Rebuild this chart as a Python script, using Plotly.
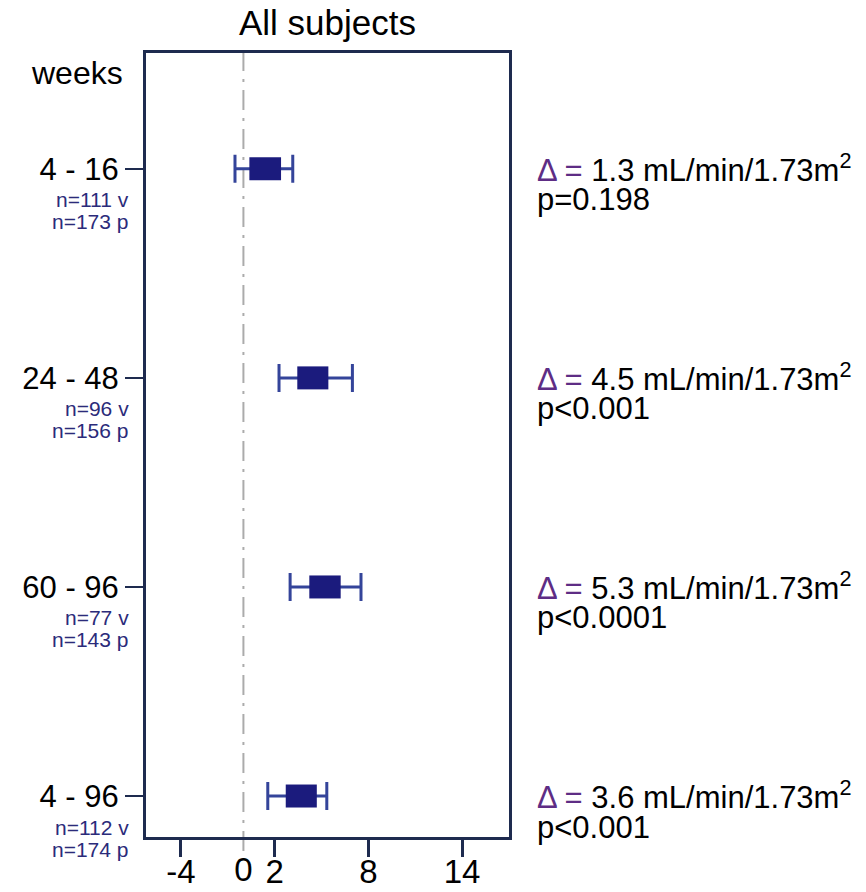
import plotly.graph_objects as go

# ---- data ----
periods = ["4 - 16", "24 - 48", "60 - 96", "4 - 96"]
n_v = ["n=111 v", "n=96 v", "n=77 v", "n=112 v"]
n_p = ["n=173 p", "n=156 p", "n=143 p", "n=174 p"]
delta = [1.3, 4.5, 5.3, 3.6]
p_text = ["p=0.198", "p<0.001", "p<0.0001", "p<0.001"]
ci_lo = [-0.54, 2.28, 2.99, 1.56]
ci_hi = [3.16, 6.98, 7.53, 5.34]
box_lo = [0.38, 3.45, 4.22, 2.71]
box_hi = [2.41, 5.44, 6.23, 4.70]
x_ticks = [-4, 2, 8, 14]

FONT = "Liberation Sans, Arial, sans-serif"
NAVY = "#1b1b7d"
WHISK = "#34449a"
FRAME = "#1e2b4f"
SUB = "#2b2b7a"
PURPLE = "#5e2d85"

ypos = list(range(len(periods)))
mid = [(a + b) / 2 for a, b in zip(box_lo, box_hi)]

fig = go.Figure()

# whiskers (CI)
fig.add_trace(go.Scatter(
    x=mid, y=ypos, mode="markers",
    marker=dict(size=1, color="rgba(0,0,0,0)"),
    error_x=dict(type="data", symmetric=False,
                 array=[h - m for h, m in zip(ci_hi, mid)],
                 arrayminus=[m - l for m, l in zip(mid, ci_lo)],
                 color=WHISK, thickness=3, width=14),
    showlegend=False, hoverinfo="skip"))

# boxes
bx, by = [], []
for lo, hi, y in zip(box_lo, box_hi, ypos):
    bx += [lo, hi, None]
    by += [y, y, None]
fig.add_trace(go.Scatter(x=bx, y=by, mode="lines",
                         line=dict(color=NAVY, width=23),
                         showlegend=False, hoverinfo="skip"))

# dummy for overlay axis carrying the "0" label
fig.add_trace(go.Scatter(x=[], y=[], xaxis="x2", showlegend=False))

# zero reference line
fig.add_shape(type="line", xref="x", yref="paper", x0=0, x1=0, y0=-0.018, y1=1,
              line=dict(color="#ababab", width=2, dash="20px,8px,3px,8px"), layer="below")

annotations = []
annotations.append(dict(text="All subjects", xref="paper", yref="paper", x=0.5, y=1,
                        yanchor="middle", xanchor="center", yshift=31, showarrow=False,
                        font=dict(size=35, color="black", family=FONT)))
annotations.append(dict(text="weeks", xref="paper", yref="paper", x=-0.058, y=0.975,
                        xanchor="right", yanchor="middle", showarrow=False,
                        font=dict(size=32, color="black", family=FONT)))
for y, v, p, d, pt in zip(ypos, n_v, n_p, delta, p_text):
    annotations.append(dict(text=v, xref="paper", yref="y", x=-0.0413, y=y,
                            xanchor="right", yanchor="middle", yshift=-31, showarrow=False,
                            font=dict(size=21, color=SUB, family=FONT)))
    annotations.append(dict(text=p, xref="paper", yref="y", x=-0.0413, y=y,
                            xanchor="right", yanchor="middle", yshift=-53, showarrow=False,
                            font=dict(size=21, color=SUB, family=FONT)))
    annotations.append(dict(
        text=f"<span style='color:{PURPLE}'>\u0394 =</span> {d} mL/min/1.73m<sup>2</sup>",
        xref="paper", yref="y", x=1.0716, y=y, xanchor="left", yanchor="middle",
        yshift=1, showarrow=False, font=dict(size=31, color="black", family=FONT)))
    annotations.append(dict(text=pt, xref="paper", yref="y", x=1.0716, y=y,
                            xanchor="left", yanchor="middle", yshift=-31, showarrow=False,
                            font=dict(size=31, color="black", family=FONT)))

# page body has an 8px margin: figure is 8px smaller and margins compensate
fig.update_layout(
    width=858, height=884,
    margin=dict(l=138, r=357, t=45, b=55, pad=0, autoexpand=False),
    paper_bgcolor="white", plot_bgcolor="white",
    font=dict(family=FONT, color="black"),
    showlegend=False,
    xaxis=dict(range=[-6.24, 17.01], tickvals=x_ticks, ticktext=[str(t) for t in x_ticks],
               ticks="outside", ticklen=17, tickwidth=3, tickcolor=FRAME,
               ticklabelstandoff=-14,
               showline=True, linewidth=3, linecolor=FRAME, mirror=True,
               showgrid=False, zeroline=False, automargin=False,
               tickfont=dict(size=33, color="black", family=FONT)),
    xaxis2=dict(range=[-6.24, 17.01], overlaying="x", side="bottom",
                tickvals=[0], ticktext=["0"], ticks="outside", ticklen=17,
                tickcolor="rgba(0,0,0,0)", automargin=False, ticklabelstandoff=-14,
                showline=False, showgrid=False, zeroline=False,
                tickfont=dict(size=33, color="black", family=FONT)),
    yaxis=dict(range=[3.196, -0.554], tickvals=ypos, ticktext=periods,
               ticks="outside", ticklen=18, tickwidth=2, tickcolor=FRAME,
               showline=True, linewidth=3, linecolor=FRAME, mirror=True,
               showgrid=False, zeroline=False, automargin=False,
               tickfont=dict(size=31, color="black", family=FONT)),
    annotations=annotations,
)

fig.write_html("out.html")
